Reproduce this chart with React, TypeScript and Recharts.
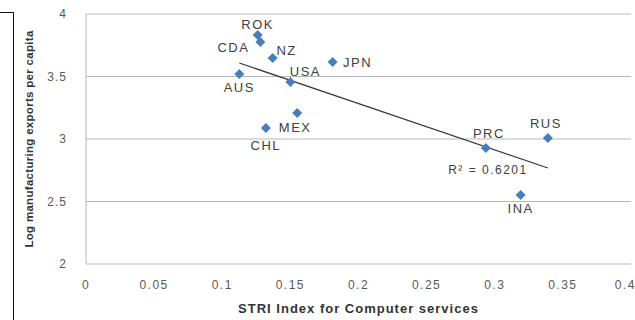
import React from 'react';
import {
  ScatterChart,
  Scatter,
  XAxis,
  YAxis,
  CartesianGrid,
  ReferenceLine,
  ReferenceDot,
} from 'recharts';

// Economies and their values
const countries = ['ROK', 'CDA', 'NZ', 'AUS', 'USA', 'JPN', 'MEX', 'CHL', 'PRC', 'RUS', 'INA'];
const striIndex = [0.126, 0.128, 0.137, 0.1125, 0.15, 0.181, 0.155, 0.132, 0.2935, 0.339, 0.319];
const logExports = [3.832, 3.776, 3.648, 3.52, 3.456, 3.616, 3.208, 3.088, 2.928, 3.008, 2.552];

// Linear trend line end points and fit statistic
const trendX = [0.1125, 0.339];
const trendY = [3.608, 2.768];
const rSquared = '0.6201';
const rSquaredAt = { x: 0.295, y: 2.752 };

// Axis ticks
const xTicks = [0, 0.05, 0.1, 0.15, 0.2, 0.25, 0.3, 0.35, 0.4];
const yTicks = [2, 2.5, 3, 3.5, 4];

// Label placement around each marker (dx, dy from its centre)
const labelOffset: Record<string, [number, number]> = {
  ROK: [0, -11],
  CDA: [-27, 5],
  NZ: [14, -8],
  AUS: [0, 13],
  USA: [15, -11],
  JPN: [25, 0],
  MEX: [-2, 14],
  CHL: [0, 17],
  PRC: [3, -15],
  RUS: [-2, -15],
  INA: [0, 13],
};

const points = countries.map((name, i) => ({ name, x: striIndex[i], y: logExports[i] }));

const FONT = 'Liberation Sans, Arial, sans-serif';
const MARKER = '#4A7EBB';
const TEXT = '#404040';

const DiamondWithLabel = (props: any) => {
  const { cx, cy, payload } = props;
  if (cx == null || cy == null) return null;
  const s = 5;
  const [dx, dy] = labelOffset[payload.name] || [0, -12];
  return (
    <g>
      <path
        d={`M${cx},${cy - s} L${cx + s},${cy} L${cx},${cy + s} L${cx - s},${cy} Z`}
        fill={MARKER}
      />
      <text
        x={cx + dx}
        y={cy + dy}
        textAnchor="middle"
        dominantBaseline="central"
        fontFamily={FONT}
        fontSize={13}
        letterSpacing={1.5}
        fill={TEXT}
      >
        {payload.name}
      </text>
    </g>
  );
};

export default function App() {
  return (
    <div style={{ position: 'absolute', left: 0, top: 0, width: 635, height: 320, background: '#fff', overflow: 'hidden' }}>
      <div
        style={{
          position: 'absolute',
          left: -2,
          top: 12,
          width: 15,
          height: 320,
          borderTop: '1.5px solid #111',
          borderRight: '1.5px solid #111',
        }}
      />
      <ScatterChart width={635} height={320} margin={{ top: 14, right: 4, bottom: 10, left: 56 }}>
        <CartesianGrid vertical={false} stroke="#b8b8b8" strokeWidth={1} />
        <XAxis
          type="number"
          dataKey="x"
          domain={[0, 0.4]}
          ticks={xTicks}
          tickFormatter={(v: number) => String(v)}
          axisLine={false}
          tickLine={false}
          tickSize={0}
          tickMargin={16}
          height={46}
          tick={{ fontSize: 12, fill: '#595959', fontFamily: FONT, letterSpacing: 1.5 }}
          label={{
            value: 'STRI Index for Computer services',
            position: 'insideBottom',
            offset: -3,
            style: { fontSize: 13, fontWeight: 'bold', fill: '#333', fontFamily: FONT, letterSpacing: 1 },
          }}
        />
        <YAxis
          type="number"
          dataKey="y"
          domain={[2, 4]}
          ticks={yTicks}
          axisLine={{ stroke: '#b8b8b8' }}
          tickLine={false}
          tickSize={0}
          tickMargin={19}
          width={30}
          tick={{ fontSize: 12, fill: '#595959', fontFamily: FONT, letterSpacing: 1 }}
          label={{
            value: 'Log manufacturing exports per capita',
            angle: -90,
            position: 'insideLeft',
            offset: -27,
            style: { textAnchor: 'middle', fontSize: 11.5, fontWeight: 'bold', fill: '#333', fontFamily: FONT, letterSpacing: 0.3 },
          }}
        />
        <ReferenceLine
          segment={[
            { x: trendX[0], y: trendY[0] },
            { x: trendX[1], y: trendY[1] },
          ]}
          stroke="#3a3a3a"
          strokeWidth={1.2}
        />
        <Scatter data={points} shape={DiamondWithLabel} isAnimationActive={false} />
        <ReferenceDot
          x={rSquaredAt.x}
          y={rSquaredAt.y}
          r={0}
          fill="none"
          stroke="none"
          label={{
            value: `R² = ${rSquared}`,
            position: 'center',
            style: { fontSize: 12, fill: TEXT, fontFamily: FONT, letterSpacing: 1.5 },
          }}
        />
      </ScatterChart>
    </div>
  );
}
